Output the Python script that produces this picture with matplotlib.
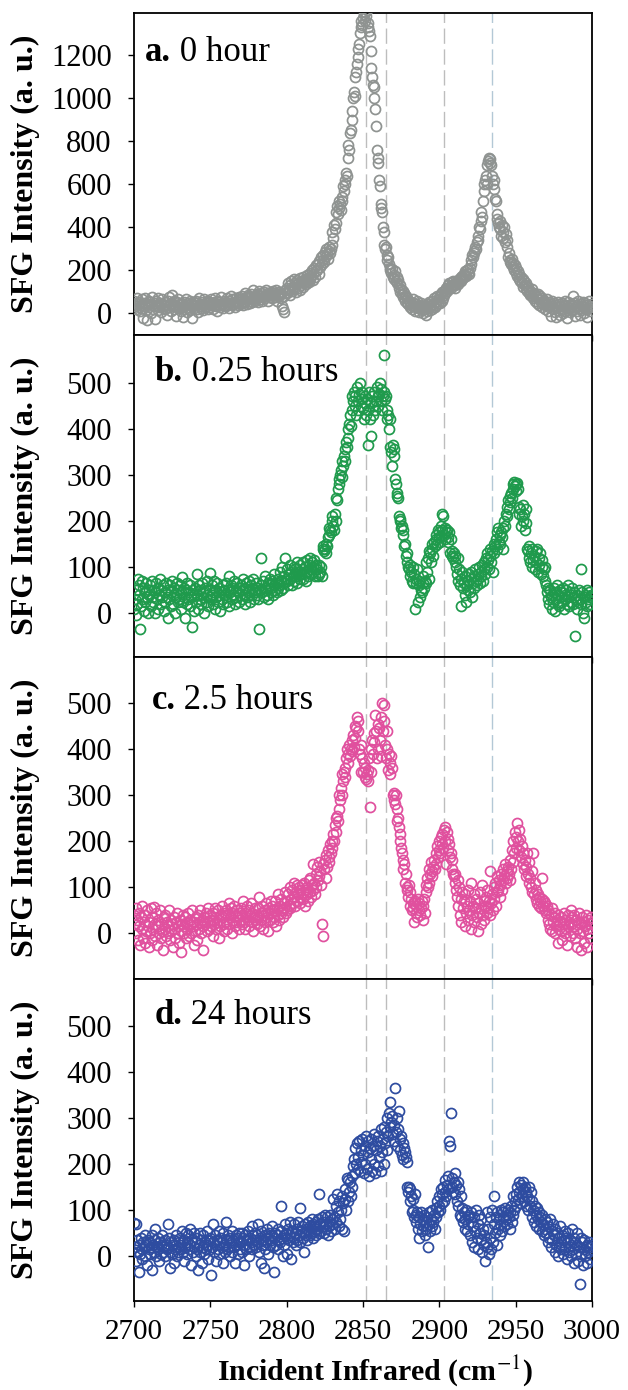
import numpy as np
import matplotlib
matplotlib.use("Agg")
from matplotlib import pyplot as plt

# SFG spectra, sampled every 0.5 cm-1 from 2700 to 3000
X_START = 2700.0
X_STEP = 0.5

sfg_0h = [
    60, 35, 50, 20, 70, 45, 30, 55, 10, 40, 65, 25, -20, 50, 35, 70, 15, -30, 45, 60,
    30, 55, 0, 40, 75, 20, 50, 35, -25, 60, 40, 15, 70, 30, 50, 5, 45, 65, 25, 35,
    55, 20, 40, -5, 60, 30, 75, 45, 10, 50, 85, 35, 20, 60, 40, -10, 55, 30, 65, 25,
    45, 10, 50, 30, -15, 55, 35, 20, 65, 40, 5, 50, 30, 60, 15, 45, -20, 35, 55, 25,
    40, 60, 20, 50, 5, 70, 35, 45, 25, 55, 40, 15, 65, 30, 50, 60, 35, 20, 55, 45,
    30, 65, 40, 50, 20, 55, 70, 35, 45, 10, 60, 40, 55, 30, 75, 45, 50, 25, 60, 40,
    55, 35, 70, 45, 60, 25, 50, 80, 40, 65, 45, 55, 30, 70, 50, 60, 40, 75, 55, 45,
    65, 50, 80, 40, 60, 95, 55, 70, 45, 85, 60, 75, 50, 90, 65, 55, 110, 70, 60, 80,
    70, 90, 55, 85, 105, 65, 80, 95, 60, 75, 100, 85, 70, 110, 80, 60, 95, 85, 75, 100,
    90, 70, 105, 85, 95, 75, 110, 60, 90, 80, 100, 85, 95, 70, 35, 20, 80, 5, 110, 100,
    120, 95, 140, 110, 85, 130, 150, 105, 125, 160, 115, 140, 100, 135, 155, 120, 145, 110, 165, 130,
    150, 125, 170, 140, 160, 135, 180, 150, 165, 145, 190, 160, 175, 200, 155, 185, 210, 170, 195, 225,
    200, 230, 185, 245, 215, 260, 230, 270, 250, 240, 285, 265, 300, 275, 255, 290, 310, 280, 300, 320,
    380, 350, 410, 390, 420, 470, 500, 460, 520, 490, 510, 480, 540, 520, 590, 570, 620, 600, 650, 640,
    720, 780, 760, 840, 850, 900, 940, 1000, 1030, 1010, 1100, 1120, 1160, 1190, 1230, 1250, 1300, 1330, 1360, 1340,
    1370, 1390, 1360, 1400, 1380, 1410, 1350, 1330, 1310, 1290, 1220, 1140, 1100, 1060, 1050, 1000, 950, 870, 760, 720,
    700, 620, 590, 510, 490, 470, 400, 380, 320, 300, 310, 270, 250, 260, 230, 200, 210, 190, 205, 170,
    180, 160, 195, 150, 170, 140, 155, 120, 130, 100, 115, 90, 105, 75, 95, 60, 80, 50, 70, 45,
    60, 30, 55, 40, 20, 65, 35, 50, 10, 45, 30, 60, 25, 40, 5, 35, 50, 15, 30, 0,
    20, 40, -5, 30, 10, 45, 25, 55, 15, 35, 60, 20, 45, 70, 30, 55, 40, 80, 50, 65,
    75, 50, 90, 60, 100, 70, 85, 110, 95, 120, 105, 130, 115, 140, 125, 120, 145, 130, 150, 135,
    130, 120, 145, 140, 150, 135, 160, 155, 170, 150, 175, 165, 185, 180, 195, 175, 200, 190, 205, 185,
    210, 230, 250, 270, 260, 290, 280, 310, 300, 330, 340, 360, 400, 390, 430, 470, 450, 520, 570, 600,
    620, 640, 600, 690, 710, 720, 700, 715, 690, 640, 600, 620, 580, 530, 520, 460, 440, 420, 400, 430,
    390, 360, 410, 380, 350, 400, 330, 370, 310, 340, 260, 280, 240, 250, 230, 255, 215, 235, 200, 225,
    190, 210, 175, 195, 160, 185, 150, 170, 140, 160, 125, 150, 130, 115, 140, 105, 125, 95, 110, 85,
    100, 80, 115, 70, 95, 60, 85, 75, 50, 90, 65, 40, 80, 55, 30, 70, 45, 60, 20, 50,
    40, 65, 10, 55, 30, 45, -10, 35, 60, 20, 50, 5, 40, -15, 30, 55, 15, 45, -5, 35,
    20, 50, 0, 35, 60, 10, 40, -20, 30, 55, 25, 5, 45, 15, 35, 80, 20, 50, -10, 30,
    40, 10, 60, 25, -5, 45, 15, 35, 55, 0, 30, 50, 20, -15, 40, 25, 60, 10, 35, 45,
    30,
]

sfg_025h = [
    10, 30, -5, 50, 20, 75, 40, 60, -35, 15, 70, 30, 55, 5, 45, 25, 65, 35, 0, 50,
    40, 60, 15, 35, 70, 25, 50, 0, 45, 65, 30, 55, 10, 40, 75, 20, 50, 35, 60, 5,
    45, 25, 65, 35, -10, 50, 30, 60, 15, 45, 70, 20, 40, 55, 0, 35, 65, 25, 50, 30,
    60, 10, 45, 78, 25, 55, 35, -10, 50, 20, 65, 30, 45, 15, 60, 35, -30, 50, 5, 40,
    55, 25, 85, 40, 10, 60, 30, 50, 20, 65, 35, 45, 0, 55, 25, 70, 40, 15, 50, 35,
    87, 30, 60, 20, 45, 70, 10, 50, 35, 65, 25, 40, 55, 5, 45, 30, 60, 20, 50, 40,
    35, 65, 25, 50, 80, 15, 45, 60, 30, 55, 40, 70, 20, 50, 35, 65, 45, 25, 55, 40,
    60, 30, 50, 75, 40, 20, 55, 65, 35, 45, 70, 50, 25, 60, 40, 55, 75, 30, 50, 45,
    65, 40, 55, 30, -35, 50, 120, 60, 45, 70, 35, 55, 80, 50, 40, 65, 30, 60, 75, 45,
    55, 70, 40, 60, 85, 50, 65, 45, 75, 55, 60, 90, 50, 70, 100, 55, 80, 65, 120, 75,
    70, 95, 60, 85, 105, 75, 90, 60, 80, 100, 70, 95, 85, 65, 110, 80, 90, 75, 105, 85,
    95, 75, 110, 85, 100, 70, 115, 90, 80, 105, 95, 120, 85, 110, 100, 90, 115, 80, 105, 95,
    95, 80, 105, 85, 90, 100, 80, 140, 145, 135, 140, 130, 150, 145, 165, 170, 185, 180, 175, 200,
    210, 190, 180, 215, 200, 250, 245, 270, 290, 280, 300, 310, 330, 295, 320, 340, 355, 330, 370, 360,
    400, 380, 410, 430, 405, 470, 440, 460, 480, 450, 470, 430, 490, 460, 440, 475, 500, 465, 450, 480,
    445, 420, 470, 455, 430, 465, 365, 440, 480, 420, 385, 455, 470, 430, 450, 480, 440, 460, 490, 470,
    450, 475, 500, 460, 485, 440, 470, 560, 480, 465, 470, 440, 420, 430, 400, 420, 360, 350, 320, 365,
    340, 355, 290, 280, 260, 255, 250, 210, 200, 205, 185, 190, 170, 180, 145, 150, 125, 130, 110, 100,
    95, 105, 80, 90, 70, 100, 65, 85, 10, 75, 65, 95, 25, 70, 60, 35, 50, 45, 65, 80,
    55, 70, 110, 65, 90, 120, 75, 135, 130, 110, 150, 140, 125, 155, 145, 160, 170, 150, 180, 165,
    175, 155, 190, 215, 180, 210, 170, 185, 160, 175, 180, 165, 155, 175, 130, 160, 125, 135, 120, 130,
    110, 125, 100, 85, 120, 70, 95, 60, 15, 75, 90, 55, 65, 40, 80, 25, 60, 70, 50, 85,
    45, 75, 90, 35, 65, 80, 55, 95, 70, 60, 85, 75, 100, 65, 90, 80, 105, 70, 95, 110,
    85, 120, 100, 130, 115, 95, 125, 140, 110, 135, 90, 150, 130, 145, 160, 175, 140, 185, 155, 170,
    150, 175, 165, 185, 140, 200, 190, 215, 230, 210, 245, 225, 255, 240, 260, 250, 280, 270, 285, 275,
    280, 265, 283, 270, 230, 215, 225, 190, 210, 235, 200, 215, 180, 225, 195, 140, 135, 120, 145, 110,
    130, 100, 140, 115, 125, 95, 135, 110, 140, 90, 120, 105, 130, 85, 100, 115, 80, 95, 70, 100,
    60, 45, 30, 55, 20, 50, 35, 10, 40, 25, 55, 5, 45, 30, 60, 20, 40, 15, 50, 35,
    45, 25, 55, 10, 40, 30, 50, 20, 35, 60, 15, 45, 25, 40, 55, 20, 35, 45, -50, 30,
    10, 40, 25, 50, 30, 95, 20, 45, 0, 35, -10, 40, 25, 50, 15, 30, 45, 20, 35, 40,
    40,
]

sfg_25h = [
    40, 20, 55, 0, 30, -15, 45, 15, -25, 35, 10, 60, -10, 25, 40, -20, 5, 50, 15, -30,
    25, 0, 55, -15, 35, 10, 58, -5, 20, 45, -25, 15, 30, 0, 50, -10, 20, 5, -35, 35,
    10, 40, -5, 25, 0, 15, 50, -15, 30, 5, 20, -30, 35, 10, -10, 25, 45, 0, 15, -20,
    30, 5, -40, 20, 40, 0, 15, 35, -10, 25, 10, 45, -5, 20, 30, 0, 50, 15, -25, 25,
    5, 35, 20, -15, 40, 10, 25, 50, 0, 30, 15, -35, 35, 20, 45, 5, 25, 55, 10, 30,
    40, 15, 30, -5, 45, 20, 55, 10, 35, 25, 50, -10, 30, 15, 40, 60, 20, 35, 5, 45,
    25, 50, 10, 40, 65, 20, 35, 55, 0, 45, 30, 60, 15, 40, 25, 50, 35, 10, 45, 30,
    55, 20, 40, 70, 25, 45, 10, 35, 60, 30, 50, 15, 40, 65, 25, 45, 5, 35, 55, 30,
    40, 20, 55, 35, 80, 15, 45, 30, 60, 10, 40, 50, 25, 65, 35, 45, 5, 55, 30, 70,
    45, 60, 25, 50, 35, 70, 15, 55, 40, 85, 30, 60, 45, 75, 50, 35, 65, 55, 90, 45,
    70, 50, 85, 60, 100, 55, 75, 95, 65, 110, 80, 60, 90, 105, 70, 85, 100, 65, 95, 80,
    105, 75, 90, 110, 60, 95, 85, 100, 70, 115, 90, 120, 80, 105, 95, 150, 110, 85, 130, 100,
    145, 115, 155, 125, 135, 105, 20, 150, -5, 140, 160, 120, 170, 145, 180, 155, 165, 195, 175, 200,
    185, 215, 200, 235, 250, 220, 255, 245, 270, 300, 290, 315, 300, 345, 330, 350, 360, 340, 380, 400,
    370, 390, 410, 385, 400, 420, 395, 430, 405, 450, 425, 445, 470, 440, 460, 400, 390, 410, 350, 380,
    350, 370, 340, 360, 335, 345, 355, 330, 380, 275, 400, 350, 420, 390, 435, 415, 475, 440, 380, 455,
    400, 445, 420, 385, 470, 500, 440, 460, 495, 410, 380, 440, 400, 355, 390, 370, 345, 385, 360, 300,
    305, 290, 280, 300, 270, 245, 250, 230, 215, 200, 185, 175, 160, 140, 150, 110, 130, 95, 100, 80,
    105, 60, 90, 75, 50, 65, 55, 25, 70, 45, 60, 35, 75, 50, 65, 40, 55, 70, 30, 60,
    75, 45, 105, 90, 120, 100, 140, 110, 130, 155, 135, 125, 145, 160, 140, 175, 150, 190, 165, 180,
    200, 175, 210, 195, 215, 185, 225, 200, 230, 150, 220, 205, 180, 195, 165, 175, 140, 160, 130, 125,
    110, 130, 95, 80, 115, 60, 100, 40, 75, 25, 90, 55, 70, 15, 85, 45, 60, 30, 95, 50,
    70, 10, 110, 40, 60, 85, 25, 55, 75, 35, 5, 65, 45, 90, 20, 55, 105, 40, 70, 30,
    60, 80, 45, 95, 55, 70, 40, 135, 65, 85, 50, 100, 75, 110, 60, 90, 125, 95, 115, 80,
    105, 130, 95, 140, 115, 125, 150, 110, 135, 120, 145, 130, 160, 115, 140, 180, 155, 200, 175, 220,
    185, 210, 240, 200, 225, 180, 205, 165, 190, 150, 175, 140, 160, 125, 145, 175, 130, 155, 110, 120,
    100, 135, 90, 175, 85, 110, 75, 95, 65, 85, 60, 80, 70, 55, 75, 120, 60, 70, 50, 65,
    45, 60, 30, 50, 20, 10, 40, 5, 55, 25, 35, 0, 45, 15, 30, -20, 40, 10, 25, 5,
    35, -15, 20, 45, 0, 30, 10, -25, 40, 15, 25, -5, 50, 20, 35, 0, 15, 40, -10, 30,
    10, -30, 25, 45, 0, 20, -35, 35, 5, 25, -20, 15, 40, -30, 10, 30, 0, 20, -10, 35,
    25,
]

sfg_24h = [
    72, 20, 70, -10, 35, 10, -35, 25, 5, 40, 15, -5, 30, 20, 45, 0, 25, -20, 35, 15,
    30, 5, 20, 45, -30, 25, 10, 35, 60, 0, 20, 40, 15, -10, 30, 5, 25, 45, 10, 20,
    35, 0, 25, 15, 70, 20, 40, -25, 10, 30, 5, 25, -15, 35, 15, 45, 0, 20, 10, 30,
    40, 15, 25, 55, 10, 35, -10, 20, 50, 30, 5, 45, 15, 25, 60, -20, 35, 10, 50, 20,
    30, 0, 40, 15, -30, 25, 50, 10, 35, -15, 20, 45, 5, 30, 15, 55, 25, -5, 35, 15,
    40, -40, 20, 30, 70, 10, 45, 25, -10, 35, 15, 55, 5, 30, 40, 20, -15, 50, 25, 10,
    35, 75, 15, 45, 20, 40, 0, 30, 55, 10, 35, 20, -15, 45, 25, 40, 5, 30, 50, 15,
    30, 50, 10, 40, -20, 25, 45, 15, 35, 55, 20, 0, 40, 30, 65, 15, 45, 25, 50, 35,
    20, 45, 30, 70, 10, 40, -15, 55, 25, 35, -25, 45, 15, 30, 60, 40, 5, 50, 25, 45,
    35, 65, 20, 40, -35, 50, 25, 45, 15, 60, 35, 30, 110, 55, 40, 0, 45, 25, 70, 50,
    40, 5, 60, 35, 75, 45, -5, 55, 30, 70, 40, 50, 25, 60, 35, 75, 45, 30, 105, 55,
    65, 40, 50, 10, 70, 45, 60, 35, 75, 55, 45, 65, 50, 80, 40, 70, 55, 65, 45, 75,
    60, 80, 50, 135, 70, 55, 85, 65, 75, 50, 90, 60, 70, 85, 45, 75, 65, 90, 55, 80,
    70, 125, 85, 60, 110, 75, 135, 95, 65, 120, 80, 100, 60, 130, 115, 55, 125, 145, 100, 170,
    165, 120, 140, 160, 130, 175, 150, 195, 210, 180, 235, 200, 245, 190, 215, 250, 185, 230, 205, 255,
    220, 180, 240, 200, 260, 190, 225, 250, 175, 235, 210, 255, 185, 240, 200, 265, 180, 230, 250, 195,
    260, 215, 240, 185, 275, 225, 255, 200, 280, 245, 270, 230, 300, 260, 310, 280, 335, 290, 305, 265,
    285, 250, 365, 270, 300, 240, 275, 315, 255, 230, 260, 220, 245, 210, 235, 225, 215, 205, 150, 140,
    150, 120, 145, 130, 95, 125, 100, 85, 135, 90, 75, 95, 60, 85, 40, 70, 95, 55, 80, 65,
    90, 45, 75, 60, 85, 20, 70, 95, 55, 80, 65, 100, 75, 90, 60, 105, 85, 120, 95, 110,
    130, 100, 145, 115, 135, 150, 120, 140, 165, 130, 155, 145, 175, 250, 240, 310, 150, 170, 140, 160,
    180, 135, 155, 120, 160, 110, 145, 90, 130, 85, 105, 75, 95, 60, 80, 100, 55, 85, 70, 90,
    45, 75, 95, 30, 65, 85, 20, 55, 100, 40, 70, 15, 90, 50, 35, 80, 10, 60, 25, 45,
    -10, 30, 95, 20, 60, 5, 85, 40, 15, 100, 30, 70, 130, 50, 85, 25, 95, 60, 80, 45,
    70, 100, 55, 85, 95, 65, 105, 80, 90, 70, 100, 85, 60, 95, 110, 75, 90, 130, 100, 120,
    135, 110, 150, 125, 160, 140, 115, 155, 130, 160, 145, 120, 150, 110, 140, 130, 100, 150, 125, 110,
    140, 85, 120, 100, 75, 110, 90, 65, 105, 80, 95, 60, 85, 75, 55, 90, 70, 45, 80, 60,
    50, 75, 30, 65, 40, 80, 20, 55, 35, 70, 45, 10, 60, 25, 50, 0, 40, 20, 65, 30,
    15, 45, 5, 35, 55, 20, 40, -5, 30, 50, 10, 35, 0, 25, 60, 15, 40, -15, 30, 5,
    25, 50, -10, 20, -60, 40, 5, 30, -20, 15, 35, 0, 20, -15, 25, 10, 30, -5, 20, 25,
    25,
]

series = [sfg_0h, sfg_025h, sfg_25h, sfg_24h]
bold_tags = ["a.", "b.", "c.", "d."]
times = ["0 hour", "0.25 hours", "2.5 hours", "24 hours"]
colors = ["#8f9391", "#1f9a4c", "#e0509e", "#2e4ca0"]
ylims = [(-100, 1395), (-95, 603), (-99, 600), (-97, 601)]
yticks = [np.arange(0, 1201, 200), np.arange(0, 501, 100), np.arange(0, 501, 100), np.arange(0, 501, 100)]
xticks = [2700, 2750, 2800, 2850, 2900, 2950, 3000]
# dashed guide lines (cm-1)
guide_lines = [2852, 2865, 2903, 2934.5]
guide_colors = ["#bdbdbd", "#bdbdbd", "#bdbdbd", "#b3c8d6"]
tag_pos = [(0.024, 0.85), (0.045, 0.857), (0.038, 0.84), (0.045, 0.86)]

plt.rcParams['font.family'] = ['Liberation Serif', 'DejaVu Serif']
plt.rcParams['mathtext.fontset'] = 'stix'

fig = plt.figure(figsize=(6.28, 13.9), dpi=100)

left = 134 / 628.0
width = 458 / 628.0
panel_h = 322 / 1390.0
bottom0 = 1 - 1301 / 1390.0

axes = []
for i in range(4):
    b = bottom0 + (3 - i) * panel_h
    ax = fig.add_axes([left, b, width, panel_h])
    axes.append(ax)
    y = np.array(series[i], dtype=float)
    x = X_START + X_STEP * np.arange(len(y))

    for gx, gc in zip(guide_lines, guide_colors):
        ax.axvline(gx, color=gc, lw=1.0, dashes=(11, 4), zorder=1)

    ax.plot(x, y, 'o', mfc='none', mec=colors[i], ms=7.2, mew=1.25, zorder=3)

    ax.set_xlim(2700, 3000)
    ax.set_ylim(*ylims[i])
    ax.set_yticks(yticks[i])
    ax.set_xticks(xticks)
    ax.tick_params(axis='both', direction='out', length=4, width=1, labelsize=22)
    ax.tick_params(axis='y', pad=12)
    if i < 3:
        ax.tick_params(axis='x', labelbottom=False)
    else:
        ax.tick_params(axis='x', pad=9, labelsize=21)
    for sp in ax.spines.values():
        sp.set_linewidth(1.3)

    ax.set_ylabel("SFG Intensity (a. u.)", fontsize=23, fontweight='bold')
    ax.yaxis.set_label_coords(-0.205, 0.5)

    tx, ty = tag_pos[i]
    t = ax.text(tx, ty, bold_tags[i], transform=ax.transAxes, fontsize=25,
                fontweight='bold', va='baseline', ha='left')
    ax.annotate(" " + times[i], xycoords=t, xy=(1, 0), va='bottom', ha='left',
                fontsize=25)

axes[-1].set_xlabel("Incident Infrared (cm$^{-1}$)", fontsize=21.5, fontweight='bold')
axes[-1].xaxis.set_label_coords(0.526, -0.162)

fig.savefig("out.png", dpi=100)
